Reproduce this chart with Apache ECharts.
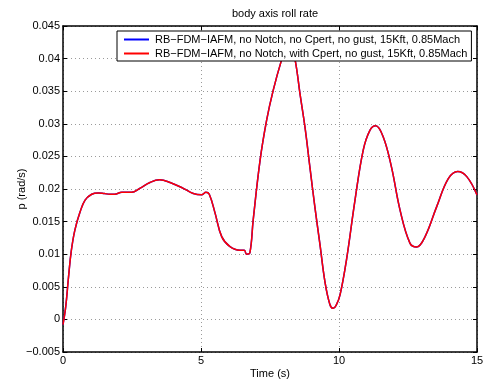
<!DOCTYPE html>
<html>
<head>
<meta charset="utf-8">
<script src="https://cdn.jsdelivr.net/npm/echarts@6/dist/echarts.min.js"></script>
<style>html,body{margin:0;padding:0;background:#fff}#c{width:484px;height:386px}</style>
</head>
<body>
<div id="c"></div>
<script>
var timeS = [0, 0.1, 0.2, 0.3, 0.43, 0.62, 0.8, 1.04, 1.28, 1.5, 1.7, 1.87, 2.13, 2.49, 2.78, 3.15, 3.5, 3.88, 4.36, 4.72, 5.02, 5.18, 5.3, 5.51, 5.75, 6.04, 6.41, 6.57, 6.65, 6.77, 6.89, 7.14, 7.38, 7.62, 7.92, 8.05, 8.17, 8.29, 8.41, 8.59, 8.77, 8.95, 9.13, 9.31, 9.49, 9.67, 9.79, 9.9, 10.04, 10.27, 10.58, 10.88, 11.12, 11.33, 11.6, 11.9, 12.21, 12.57, 12.81, 13.12, 13.54, 13.96, 14.3, 14.63, 15];
var rollNoCpert = [-0.0008, 0.002, 0.0065, 0.0105, 0.0137, 0.0165, 0.0183, 0.0192, 0.0194, 0.0193, 0.0192, 0.0192, 0.0195, 0.0195, 0.0201, 0.0210, 0.0214, 0.0210, 0.0201, 0.0193, 0.0191, 0.0195, 0.0192, 0.0163, 0.0127, 0.0112, 0.0106, 0.0106, 0.0100, 0.0102, 0.0152, 0.0244, 0.0306, 0.0352, 0.0398, 0.0412, 0.0417, 0.0412, 0.0398, 0.0345, 0.0294, 0.0232, 0.0171, 0.0115, 0.0058, 0.0023, 0.0017, 0.0022, 0.0038, 0.0091, 0.0183, 0.0260, 0.0290, 0.0297, 0.0280, 0.0234, 0.0168, 0.0117, 0.0111, 0.0127, 0.0173, 0.0216, 0.0227, 0.0219, 0.0191];
var rollWithCpert = [-0.0008, 0.002, 0.0065, 0.0105, 0.0137, 0.0165, 0.0183, 0.0192, 0.0194, 0.0193, 0.0192, 0.0192, 0.0195, 0.0195, 0.0201, 0.0210, 0.0214, 0.0210, 0.0201, 0.0193, 0.0191, 0.0195, 0.0192, 0.0163, 0.0127, 0.0112, 0.0106, 0.0106, 0.0100, 0.0102, 0.0152, 0.0244, 0.0306, 0.0352, 0.0398, 0.0412, 0.0417, 0.0412, 0.0398, 0.0345, 0.0294, 0.0232, 0.0171, 0.0115, 0.0058, 0.0023, 0.0017, 0.0022, 0.0038, 0.0091, 0.0183, 0.0260, 0.0290, 0.0297, 0.0280, 0.0234, 0.0168, 0.0117, 0.0111, 0.0127, 0.0173, 0.0216, 0.0227, 0.0219, 0.0191];
var seriesNames = ['RB\u2212FDM\u2212IAFM, no Notch, no Cpert, no gust, 15Kft, 0.85Mach',
                   'RB\u2212FDM\u2212IAFM, no Notch, with Cpert, no gust, 15Kft, 0.85Mach'];
var xRange = [0, 15, 5];
var yRange = [-0.005, 0.045, 0.005];

function pairs(xs, ys) { return xs.map(function (x, i) { return [x, ys[i]]; }); }
function fmt(v) { return String(+v.toFixed(4)).replace('-', '\u2212'); }

var FONT = 'Liberation Sans';
var chart = echarts.init(document.getElementById('c'), null, {renderer: 'canvas'});
var axisLine = {show: true, onZero: false, lineStyle: {color: '#000', width: 1.5}};
var tick = {show: true, inside: true, length: 4, lineStyle: {color: '#000', width: 1}};
var split = {show: true, lineStyle: {color: '#9a9a9a', width: 1, type: [1, 3]}};
chart.setOption({
  animation: false,
  backgroundColor: '#fff',
  title: {text: 'body axis roll rate', left: 270, textAlign: 'center', top: 3,
    textStyle: {fontFamily: FONT, fontSize: 11, fontWeight: 'normal', color: '#000'}},
  grid: {left: 63, right: 7, top: 26, bottom: 34, containLabel: false, outerBoundsMode: 'none'},
  legend: {
    left: 117, top: 31, orient: 'vertical', itemWidth: 25, itemHeight: 12, itemGap: 3,
    padding: [3, 4, 2, 6], borderColor: '#000', borderWidth: 1, backgroundColor: '#fff',
    itemStyle: {color: 'rgba(0,0,0,0)', borderWidth: 0, opacity: 0},
    textStyle: {fontFamily: FONT, fontSize: 11, color: '#000', padding: [0, 0, 0, 1]},
    data: seriesNames
  },
  xAxis: [{
    type: 'value', min: xRange[0], max: xRange[1], interval: xRange[2],
    name: 'Time (s)', nameLocation: 'middle', nameGap: 16, nameMoveOverlap: false,
    nameTextStyle: {fontFamily: FONT, fontSize: 11, color: '#000'},
    axisLine: axisLine, axisTick: tick, splitLine: split,
    axisLabel: {fontFamily: FONT, fontSize: 11, color: '#000', margin: 3, formatter: fmt}
  }, {
    type: 'value', position: 'top', min: xRange[0], max: xRange[1], interval: xRange[2],
    axisLine: axisLine, axisTick: tick, splitLine: {show: false}, axisLabel: {show: false}
  }],
  yAxis: [{
    type: 'value', min: yRange[0], max: yRange[1], interval: yRange[2],
    name: 'p (rad/s)', nameLocation: 'middle', nameGap: 36, nameMoveOverlap: false,
    nameTextStyle: {fontFamily: FONT, fontSize: 11, color: '#000'},
    axisLine: axisLine, axisTick: tick, splitLine: split,
    axisLabel: {fontFamily: FONT, fontSize: 11, color: '#000', margin: 3, formatter: fmt}
  }, {
    type: 'value', position: 'right', min: yRange[0], max: yRange[1], interval: yRange[2],
    axisLine: axisLine, axisTick: tick, splitLine: {show: false}, axisLabel: {show: false}
  }],
  series: [{
    name: seriesNames[0], type: 'line', data: pairs(timeS, rollNoCpert),
    showSymbol: false, symbol: 'none', smooth: 0.4, z: 2,
    lineStyle: {color: '#0000ff', width: 1.5}, itemStyle: {color: '#0000ff'}
  }, {
    name: seriesNames[1], type: 'line', data: pairs(timeS, rollWithCpert),
    showSymbol: false, symbol: 'none', smooth: 0.4, z: 3,
    lineStyle: {color: '#ff0000', width: 1.5}, itemStyle: {color: '#ff0000'}
  }]
});
</script>
</body>
</html>
